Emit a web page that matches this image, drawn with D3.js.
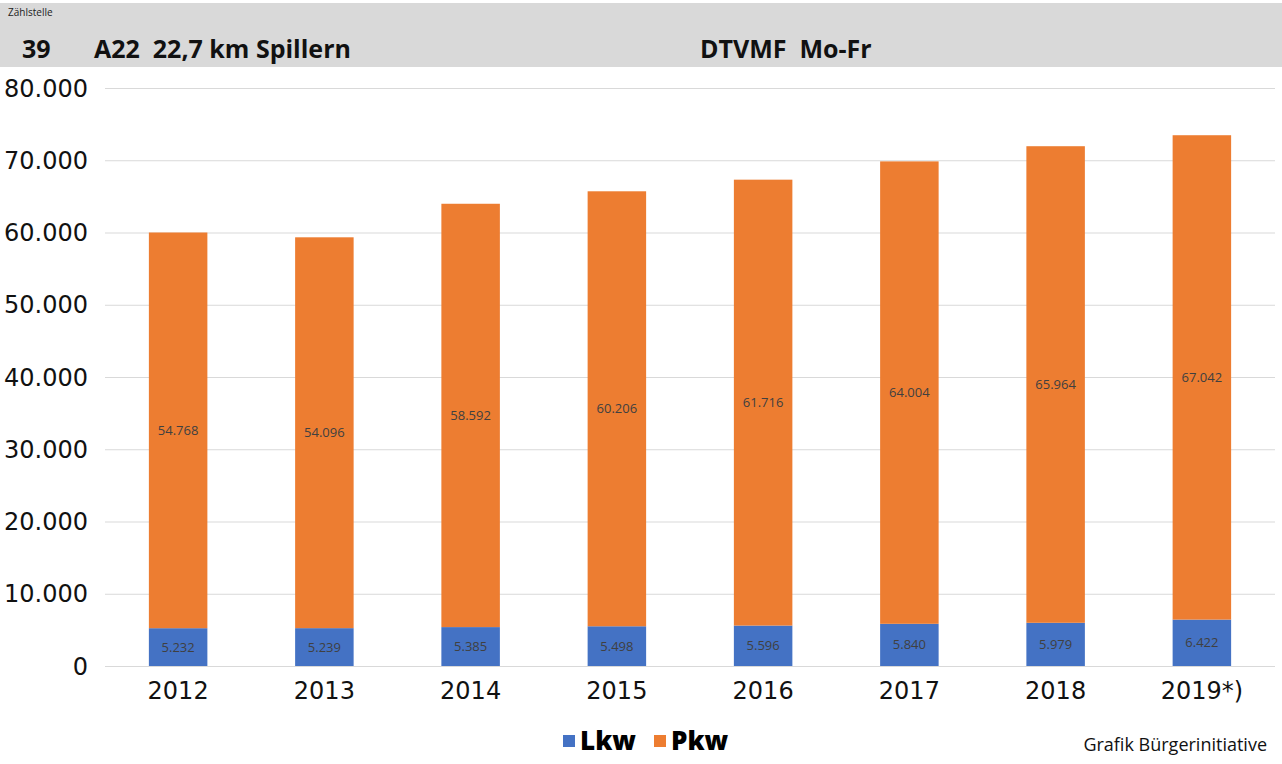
<!DOCTYPE html>
<html>
<head>
<meta charset="utf-8">
<script src="https://cdn.jsdelivr.net/npm/d3@7"></script>
<style>
  body { margin: 0; background: #fff; }
  text { font-family: "Open Sans", "Noto Sans", sans-serif; }
  .axis-label { font-family: "DejaVu Sans", sans-serif; }
</style>
</head>
<body>
<div id="chart"></div>
<script>
// data
var years = ["2012", "2013", "2014", "2015", "2016", "2017", "2018", "2019*)"]
var lkw = [5232, 5239, 5385, 5498, 5596, 5840, 5979, 6422]
var pkw = [54768, 54096, 58592, 60206, 61716, 64004, 65964, 67042]
var yTicks = [0, 10000, 20000, 30000, 40000, 50000, 60000, 70000, 80000]
var seriesNames = ["Lkw", "Pkw"]
var colors = ["#4472c4", "#ed7d31"]

var width = 1282, height = 764;
var margin = { left: 105, right: 7, top: 88, bottom: 98 };

var svg = d3.select("#chart").append("svg")
  .attr("width", width)
  .attr("height", height);

// header band
svg.append("rect")
  .attr("x", 0).attr("y", 3)
  .attr("width", width).attr("height", 64)
  .attr("fill", "#d9d9d9");

svg.append("text").attr("x", 8).attr("y", 16)
  .attr("font-size", 10).attr("fill", "#222").text("Zählstelle");
svg.append("text").attr("x", 22).attr("y", 58)
  .attr("font-size", 25).attr("font-weight", "bold").attr("fill", "#111").text("39");
svg.append("text").attr("x", 94).attr("y", 58)
  .attr("font-size", 25).attr("font-weight", "bold").attr("fill", "#111")
  .attr("xml:space", "preserve").text("A22  22,7 km Spillern");
svg.append("text").attr("x", 700).attr("y", 58)
  .attr("font-size", 25).attr("font-weight", "bold").attr("fill", "#111")
  .attr("xml:space", "preserve").text("DTVMF  Mo-Fr");

var x = d3.scaleBand()
  .domain(years)
  .range([margin.left, width - margin.right])
  .paddingInner(0.6)
  .paddingOuter(0.3);

var y = d3.scaleLinear()
  .domain([0, 80000])
  .range([height - margin.bottom, margin.top]);

var fmt = d3.formatLocale({ decimal: ",", thousands: ".", grouping: [3], currency: ["", "€"] }).format(",d");

// gridlines
svg.append("g")
  .selectAll("line")
  .data(yTicks)
  .enter()
  .append("line")
    .attr("x1", margin.left)
    .attr("x2", width - margin.right)
    .attr("y1", function(d) { return y(d) + 0.5; })
    .attr("y2", function(d) { return y(d) + 0.5; })
    .attr("stroke", "#d9d9d9")
    .attr("stroke-width", 1);

// y labels
svg.append("g")
  .selectAll("text")
  .data(yTicks)
  .enter()
  .append("text")
    .attr("class", "axis-label")
    .attr("x", 88)
    .attr("y", function(d) { return y(d); })
    .attr("dy", "0.36em")
    .attr("text-anchor", "end")
    .attr("font-size", 24)
    .attr("fill", "#111")
    .text(function(d) { return fmt(d); });

// stacked bars
var rows = years.map(function(yr, i) { return { year: yr, Lkw: lkw[i], Pkw: pkw[i] }; });
var stack = d3.stack().keys(seriesNames)(rows);

var layers = svg.append("g")
  .selectAll("g")
  .data(stack)
  .enter()
  .append("g")
    .attr("fill", function(d, i) { return colors[i]; });

layers.selectAll("rect")
  .data(function(d) { return d; })
  .enter()
  .append("rect")
    .attr("x", function(d) { return x(d.data.year); })
    .attr("y", function(d) { return y(d[1]); })
    .attr("width", x.bandwidth())
    .attr("height", function(d) { return y(d[0]) - y(d[1]); });

layers.selectAll("text")
  .data(function(d) { return d; })
  .enter()
  .append("text")
    .attr("x", function(d) { return x(d.data.year) + x.bandwidth() / 2; })
    .attr("y", function(d) { return (y(d[0]) + y(d[1])) / 2; })
    .attr("dy", "0.35em")
    .attr("text-anchor", "middle")
    .attr("font-size", 13)
    .attr("fill", "#404040")
    .text(function(d) { return fmt(d[1] - d[0]); });

// x labels
svg.append("g")
  .selectAll("text")
  .data(years)
  .enter()
  .append("text")
    .attr("class", "axis-label")
    .attr("x", function(d) { return x(d) + x.bandwidth() / 2; })
    .attr("y", 699)
    .attr("text-anchor", "middle")
    .attr("font-size", 24)
    .attr("fill", "#111")
    .text(function(d) { return d; });

// legend
var legend = svg.append("g").attr("transform", "translate(563,735)");
var legendX = [0, 91];
seriesNames.forEach(function(name, i) {
  legend.append("rect")
    .attr("x", legendX[i]).attr("y", 0)
    .attr("width", 12).attr("height", 12)
    .attr("fill", colors[i]);
  legend.append("text")
    .attr("x", legendX[i] + 17).attr("y", 15)
    .attr("font-size", 26).attr("font-weight", 800).attr("fill", "#000")
    .text(name);
});

svg.append("text")
  .attr("x", 1267).attr("y", 751)
  .attr("text-anchor", "end")
  .attr("font-size", 18).attr("fill", "#111")
  .text("Grafik Bürgerinitiative");
</script>
</body>
</html>
